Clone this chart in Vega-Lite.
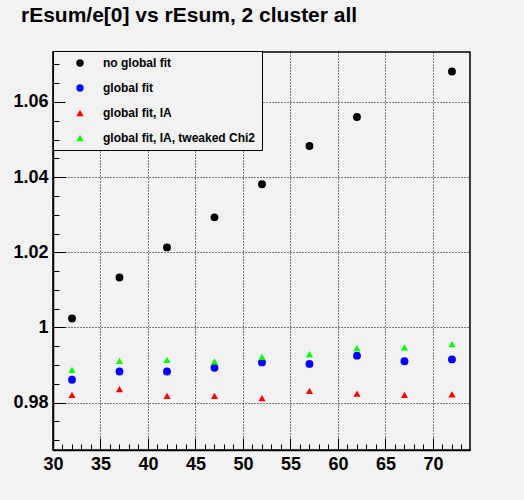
{
  "$schema": "https://vega.github.io/schema/vega-lite/v6.json",
  "width": 417,
  "height": 398,
  "autosize": {"type": "none"},
  "padding": {"left": 53, "top": 52, "right": 54, "bottom": 50},
  "background": "#f2f2f2",
  "title": {
    "text": "rEsum/e[0] vs rEsum, 2 cluster all",
    "anchor": "start",
    "frame": "group",
    "dx": -32,
    "offset": 8,
    "baseline": "alphabetic",
    "font": "Liberation Sans",
    "fontSize": 21,
    "fontWeight": "bold",
    "color": "#000000"
  },
  "config": {
    "view": {"stroke": "#000000", "strokeWidth": 1.5, "fill": "#f2f2f2"},
    "legend": {
      "orient": "none",
      "legendX": 0,
      "legendY": -1,
      "fillColor": "#f2f2f2",
      "strokeColor": "#000000",
      "padding": 6,
      "symbolOffset": 15,
      "labelOffset": 17,
      "rowPadding": 13,
      "labelFont": "Liberation Sans",
      "labelFontSize": 12,
      "labelFontWeight": "bold",
      "labelColor": "#000000",
      "labelLimit": 0,
      "symbolSize": 55,
      "symbolStrokeWidth": 0,
      "symbolOpacity": 1
    }
  },
  "data": {
    "values": [
      {"rEsum": 32, "ratio": 1.0024, "series": "no global fit"},
      {"rEsum": 37, "ratio": 1.0133, "series": "no global fit"},
      {"rEsum": 42, "ratio": 1.0213, "series": "no global fit"},
      {"rEsum": 47, "ratio": 1.0293, "series": "no global fit"},
      {"rEsum": 52, "ratio": 1.0381, "series": "no global fit"},
      {"rEsum": 57, "ratio": 1.0483, "series": "no global fit"},
      {"rEsum": 62, "ratio": 1.056, "series": "no global fit"},
      {"rEsum": 72, "ratio": 1.0681, "series": "no global fit"},
      {"rEsum": 32, "ratio": 0.9861, "series": "global fit"},
      {"rEsum": 37, "ratio": 0.9883, "series": "global fit"},
      {"rEsum": 42, "ratio": 0.9883, "series": "global fit"},
      {"rEsum": 47, "ratio": 0.9893, "series": "global fit"},
      {"rEsum": 52, "ratio": 0.9907, "series": "global fit"},
      {"rEsum": 57, "ratio": 0.9903, "series": "global fit"},
      {"rEsum": 62, "ratio": 0.9925, "series": "global fit"},
      {"rEsum": 67, "ratio": 0.991, "series": "global fit"},
      {"rEsum": 72, "ratio": 0.9915, "series": "global fit"},
      {"rEsum": 32, "ratio": 0.9821, "series": "global fit, IA"},
      {"rEsum": 37, "ratio": 0.9836, "series": "global fit, IA"},
      {"rEsum": 42, "ratio": 0.9818, "series": "global fit, IA"},
      {"rEsum": 47, "ratio": 0.9818, "series": "global fit, IA"},
      {"rEsum": 52, "ratio": 0.9812, "series": "global fit, IA"},
      {"rEsum": 57, "ratio": 0.9831, "series": "global fit, IA"},
      {"rEsum": 62, "ratio": 0.9824, "series": "global fit, IA"},
      {"rEsum": 67, "ratio": 0.9821, "series": "global fit, IA"},
      {"rEsum": 72, "ratio": 0.9822, "series": "global fit, IA"},
      {"rEsum": 32, "ratio": 0.9887, "series": "global fit, IA, tweaked Chi2"},
      {"rEsum": 37, "ratio": 0.9911, "series": "global fit, IA, tweaked Chi2"},
      {"rEsum": 42, "ratio": 0.9914, "series": "global fit, IA, tweaked Chi2"},
      {"rEsum": 47, "ratio": 0.991, "series": "global fit, IA, tweaked Chi2"},
      {"rEsum": 52, "ratio": 0.9922, "series": "global fit, IA, tweaked Chi2"},
      {"rEsum": 57, "ratio": 0.9929, "series": "global fit, IA, tweaked Chi2"},
      {"rEsum": 62, "ratio": 0.9945, "series": "global fit, IA, tweaked Chi2"},
      {"rEsum": 67, "ratio": 0.9947, "series": "global fit, IA, tweaked Chi2"},
      {"rEsum": 72, "ratio": 0.9956, "series": "global fit, IA, tweaked Chi2"}
    ]
  },
  "encoding": {
    "color": {
      "field": "series", "type": "nominal",
      "scale": {
        "domain": ["no global fit", "global fit", "global fit, IA", "global fit, IA, tweaked Chi2"],
        "range": ["#000000", "#0000ff", "#ff0000", "#00ff00"]
      },
      "legend": {"title": null}
    },
    "shape": {
      "field": "series", "type": "nominal",
      "scale": {
        "domain": ["no global fit", "global fit", "global fit, IA", "global fit, IA, tweaked Chi2"],
        "range": ["circle", "circle", "triangle-up", "triangle-up"]
      },
      "legend": {"title": null}
    }
  },
  "layer": [
    {
      "transform": [{"filter": "datum.series === 'no global fit'"}],
      "mark": {"type": "point", "filled": true, "opacity": 1, "size": 62},
      "encoding": {
        "x": {
          "field": "rEsum", "type": "quantitative",
          "scale": {"domain": [30, 73.9], "nice": false, "zero": false},
          "axis": {
            "orient": "bottom",
            "title": null,
            "values": [30, 35, 40, 45, 50, 55, 60, 65, 70],
            "grid": true, "gridColor": "#000000", "gridDash": [1, 2], "gridWidth": 1, "gridOpacity": 1,
            "ticks": false, "tickSize": 0,
            "domain": true, "domainColor": "#000000", "domainWidth": 1.5,
            "labelFont": "Liberation Sans", "labelFontSize": 18, "labelFontWeight": "bold", "labelColor": "#000000",
            "labelPadding": 5, "labelFlush": false, "labelOverlap": false
          }
        },
        "y": {
          "field": "ratio", "type": "quantitative",
          "scale": {"domain": [0.9674, 1.0733], "nice": false, "zero": false},
          "axis": {
            "orient": "left",
            "title": null,
            "values": [0.98, 1, 1.02, 1.04, 1.06],
            "format": "~g",
            "grid": true, "gridColor": "#000000", "gridDash": [1, 2], "gridWidth": 1, "gridOpacity": 1,
            "ticks": false, "tickSize": 0,
            "domain": true, "domainColor": "#000000", "domainWidth": 1.5,
            "labelFont": "Liberation Sans", "labelFontSize": 18, "labelFontWeight": "bold", "labelColor": "#000000",
            "labelPadding": 5, "labelFlush": false, "labelOverlap": false
          }
        }
      }
    },
    {
      "transform": [{"filter": "datum.series === 'global fit'"}],
      "mark": {"type": "point", "filled": true, "opacity": 1, "size": 62},
      "encoding": {
        "x": {
          "field": "rEsum", "type": "quantitative",
          "scale": {"domain": [30, 73.9], "nice": false, "zero": false},
          "axis": {
            "orient": "bottom",
            "title": null,
            "values": [30, 35, 40, 45, 50, 55, 60, 65, 70],
            "grid": false, "labels": false, "domain": false,
            "ticks": true, "tickColor": "#000000", "tickWidth": 1, "tickSize": -12, "zindex": 1
          }
        },
        "y": {
          "field": "ratio", "type": "quantitative",
          "scale": {"domain": [0.9674, 1.0733], "nice": false, "zero": false},
          "axis": {
            "orient": "left",
            "title": null,
            "values": [0.98, 1, 1.02, 1.04, 1.06],
            "grid": false, "labels": false, "domain": false,
            "ticks": true, "tickColor": "#000000", "tickWidth": 1, "tickSize": -12, "zindex": 1
          }
        }
      }
    },
    {
      "transform": [{"filter": "datum.series === 'global fit, IA' || datum.series === 'global fit, IA, tweaked Chi2'"}],
      "mark": {"type": "point", "filled": true, "opacity": 1, "size": 52},
      "encoding": {
        "x": {
          "field": "rEsum", "type": "quantitative",
          "scale": {"domain": [30, 73.9], "nice": false, "zero": false},
          "axis": {
            "orient": "bottom",
            "title": null,
            "values": [31, 32, 33, 34, 36, 37, 38, 39, 41, 42, 43, 44, 46, 47, 48, 49, 51, 52, 53, 54, 56, 57, 58, 59, 61, 62, 63, 64, 66, 67, 68, 69, 71, 72, 73],
            "grid": false, "labels": false, "domain": false,
            "ticks": true, "tickColor": "#000000", "tickWidth": 1, "tickSize": -6, "zindex": 1
          }
        },
        "y": {
          "field": "ratio", "type": "quantitative",
          "scale": {"domain": [0.9674, 1.0733], "nice": false, "zero": false},
          "axis": {
            "orient": "left",
            "title": null,
            "values": [0.97, 0.975, 0.985, 0.99, 0.995, 1.005, 1.01, 1.015, 1.025, 1.03, 1.035, 1.045, 1.05, 1.055, 1.065, 1.07],
            "grid": false, "labels": false, "domain": false,
            "ticks": true, "tickColor": "#000000", "tickWidth": 1, "tickSize": -6, "zindex": 1
          }
        }
      }
    }
  ],
  "resolve": {"axis": {"x": "independent", "y": "independent"}}
}
